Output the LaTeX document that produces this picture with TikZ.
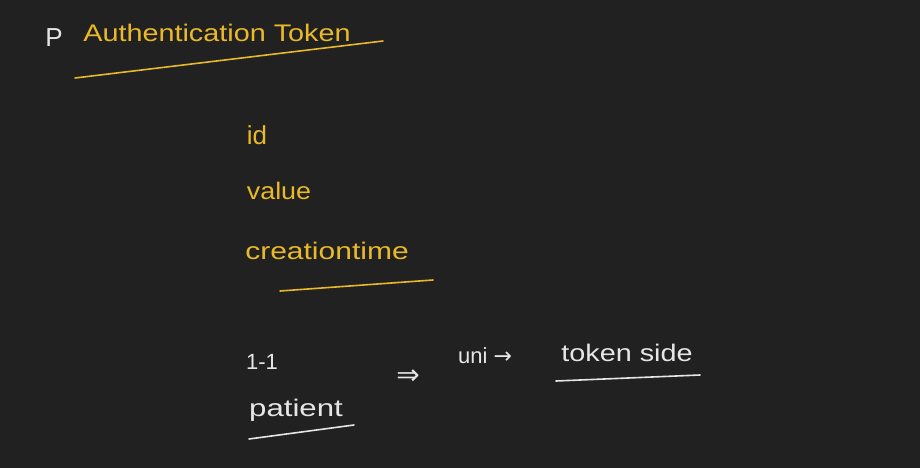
\documentclass[tikz,border=0pt]{standalone}
\usepackage{fontspec}
\setmainfont{Liberation Sans}
\newfontfamily\symf{DejaVu Sans}
\definecolor{bg}{HTML}{212121}
\definecolor{gold}{HTML}{E9B92A}
\definecolor{chalk}{HTML}{E6E6E6}
\begin{document}
\begin{tikzpicture}[x=1pt,y=-1pt,
  txt/.style={inner sep=0pt,anchor=center},
  goldtxt/.style={txt,text=gold},
  whitetxt/.style={txt,text=chalk},
  uline/.style={line width=1.6pt,line cap=round},
  goldline/.style={uline,draw=gold},
  whiteline/.style={uline,draw=chalk}]
\fill[bg] (0,0) rectangle (920,468);
\useasboundingbox (0,0) rectangle (920,468);
\node[whitetxt,font=\fontsize{26}{30}\selectfont] (p) at (54,38) {P};
\node[goldtxt,font=\fontsize{24}{28}\selectfont,xscale=1.2] (title) at (217,33) {Authentication Token};
\draw[goldline] (75,78) -- (383,41);
\node[goldtxt,font=\fontsize{26}{30}\selectfont] (id) at (257,135) {id};
\node[goldtxt,font=\fontsize{24}{28}\selectfont,xscale=1.12] (value) at (279,191) {value};
\node[goldtxt,font=\fontsize{24}{28}\selectfont,xscale=1.25] (ctime) at (327,251) {creationtime};
\draw[goldline] (280,291) -- (433,280);
\node[whitetxt,font=\fontsize{22}{26}\selectfont] (one) at (262,362) {1-1};
\node[whitetxt,font=\symf\fontsize{28}{32}\selectfont] (impl) at (408,377) {⇒};
\node[whitetxt,font=\fontsize{22}{26}\selectfont] (uni) at (485,356) {uni {\symf →}};
\node[whitetxt,font=\fontsize{24}{28}\selectfont,xscale=1.2] (tok) at (627,353) {token side};
\draw[whiteline] (556,381) -- (700,375);
\node[whitetxt,font=\fontsize{24}{28}\selectfont,xscale=1.3] (pat) at (296,410) {patient};
\draw[whiteline] (249,439) -- (354,425);
\end{tikzpicture}
\end{document}
